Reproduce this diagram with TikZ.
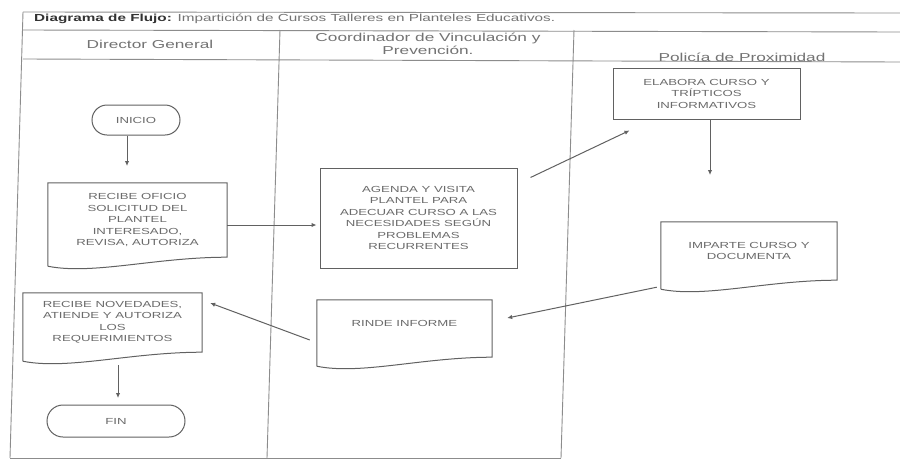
\documentclass[tikz,border=0pt]{standalone}
\usepackage{fontspec}
\setmainfont[FakeStretch=1.5]{Liberation Sans}
\usetikzlibrary{arrows.meta,calc}
\tikzset{
  frame/.style={draw=black!45, line width=0.9pt},
  ln/.style={draw=black!62, line width=1pt},
  arr/.style={ln, -{Latex[length=5pt,width=4.5pt]}},
  boxtxt/.style={font=\fontsize{8.8}{11.5}\selectfont, text=black!58, align=center, inner sep=0pt},
  procbox/.style={boxtxt, ln},
  docbox/.style={boxtxt, draw=none},
  termbox/.style={boxtxt, ln},
  headtxt/.style={font=\fontsize{11.5}{13}\selectfont, text=black!55, align=center, inner sep=0pt},
  titletxt/.style={font=\fontsize{10.2}{12}\selectfont, text=black!55, inner sep=0pt}
}
\newcommand\docoutline[1]{%
  \draw[ln] ($(#1.south west)+(0,9)$) -- (#1.north west) -- (#1.north east) -- (#1.south east)
    .. controls ($(#1.south east)!0.4!(#1.south west)$) and ($(#1.south east)!0.75!(#1.south west)+(0,18)$)
    .. ($(#1.south west)+(0,9)$);}
\begin{document}
\begin{tikzpicture}[x=1pt,y=-1pt]
\useasboundingbox[fill=white] (0,0) rectangle (900,461);

% frame and swimlanes
\draw[frame] (23,12) -- (900,13);
\draw[frame] (23,30) -- (900,32);
\draw[frame] (23,59) -- (900,62);
\draw[frame] (23,12) -- (10,458);
\draw[frame] (280,30) -- (267,458);
\draw[frame] (574,30) -- (561,458);
\draw[frame] (10,458) -- (561,458);

% title and headers
\node[titletxt, anchor=west] (title) at (34,19) {\textcolor{black!80}{\textbf{Diagrama de Flujo:}} Impartición de Cursos Talleres en Planteles Educativos.};
\node[headtxt] (h1) at (150,44) {Director General};
\node[headtxt] (h2) at (428,44) {Coordinador de Vinculación y\\Prevención.};
\node[headtxt] (h3) at (742,57) {Policía de Proximidad};

% nodes
\node[termbox, rounded corners=15pt, minimum width=88pt, minimum height=30pt] (inicio) at (136,120) {INICIO};
\node[docbox, minimum width=179pt, minimum height=74pt] (b1) at (137.5,220) {RECIBE OFICIO\\SOLICITUD DEL\\PLANTEL\\INTERESADO,\\REVISA, AUTORIZA};
\docoutline{b1}
\node[procbox, minimum width=197pt, minimum height=100pt] (b2) at (418.5,218) {AGENDA Y VISITA\\PLANTEL PARA\\ADECUAR CURSO A LAS\\NECESIDADES SEGÚN\\PROBLEMAS\\RECURRENTES};
\node[procbox, minimum width=187pt, minimum height=51pt] (b3) at (706.5,93.5) {ELABORA CURSO Y\\TRÍPTICOS\\INFORMATIVOS};
\node[docbox, minimum width=176pt, minimum height=58pt] (b4) at (749,251) {IMPARTE CURSO Y\\DOCUMENTA};
\docoutline{b4}
\node[docbox, minimum width=175pt, minimum height=57pt, text depth=10pt] (b5) at (404.5,328.5) {RINDE INFORME};
\docoutline{b5}
\node[docbox, minimum width=179pt, minimum height=59pt] (b6) at (112.5,322.5) {RECIBE NOVEDADES,\\ATIENDE Y AUTORIZA\\LOS\\REQUERIMIENTOS};
\docoutline{b6}
\node[termbox, rounded corners=16pt, minimum width=138pt, minimum height=32pt] (fin) at (116,421) {FIN};

% free arrow ends
\coordinate (a1) at (127,166);
\coordinate (a4) at (710,175);
\coordinate (a7) at (118,398);

% connectors
\draw[arr] (inicio.south -| a1) -- (a1);
\draw[arr, shorten >=3pt] ([yshift=-5pt]b1.east) -- ([yshift=-7pt]b2.west);
\draw[arr] ([xshift=13pt,yshift=-10pt]b2.north east) -- ([xshift=17pt,yshift=-11pt]b3.south west);
\draw[arr] (b3.south -| a4) -- (a4);
\draw[arr] ([xshift=-4pt,yshift=-7pt]b4.south west) -- ([xshift=15pt,yshift=10.5pt]b5.east);
\draw[arr] ([xshift=-7pt,yshift=-11.5pt]b5.west) -- ([xshift=8pt,yshift=19.5pt]b6.east);
\draw[arr] ($(b6.south -| a7)+(0,13)$) -- (a7);
\end{tikzpicture}
\end{document}
